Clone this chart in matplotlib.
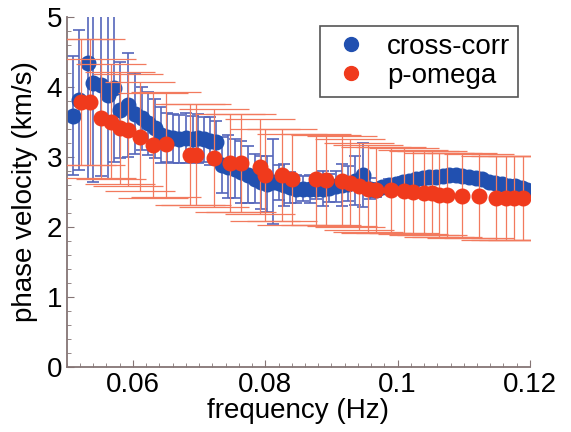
import matplotlib
matplotlib.use('Agg')
import matplotlib.pyplot as plt
from matplotlib.lines import Line2D
from matplotlib.ticker import MultipleLocator

plt.rcParams['font.family'] = ['Liberation Sans', 'DejaVu Sans']

# cross-corr (blue)
cc_freq = [0.0510, 0.0519, 0.0532, 0.0540, 0.0551, 0.0562, 0.0571, 0.0580, 0.0593, 0.0603,
           0.0613, 0.0623, 0.0633, 0.0643, 0.0652, 0.0661, 0.0670, 0.0680, 0.0690, 0.0698,
           0.0708, 0.0716, 0.0725, 0.0734, 0.0744, 0.0754, 0.0764, 0.0774, 0.0784, 0.0793,
           0.0802, 0.0811, 0.0820, 0.0829, 0.0838, 0.0847, 0.0857, 0.0867, 0.0877, 0.0887,
           0.0897, 0.0907, 0.0916, 0.0925, 0.0936, 0.0947, 0.0958, 0.0967, 0.0977, 0.0987,
           0.0997, 0.1008, 0.1018, 0.1028, 0.1038, 0.1048, 0.1058, 0.1068, 0.1078, 0.1088,
           0.1098, 0.1108, 0.1118, 0.1128, 0.1138, 0.1148, 0.1158, 0.1168, 0.1178, 0.1188,
           0.1196]
cc_vel = [3.59, 3.81, 4.34, 4.05, 4.03, 3.89, 3.98, 3.67, 3.74, 3.62,
          3.55, 3.48, 3.41, 3.31, 3.28, 3.27, 3.26, 3.27, 3.26, 3.27,
          3.25, 3.23, 3.21, 2.89, 2.86, 2.83, 2.79, 2.75, 2.69, 2.64,
          2.62, 2.65, 2.63, 2.60, 2.57, 2.55, 2.55, 2.55, 2.55, 2.55,
          2.56, 2.58, 2.60, 2.62, 2.66, 2.74, 2.55, 2.53, 2.57, 2.60,
          2.62, 2.65, 2.66, 2.68, 2.70, 2.71, 2.72, 2.73, 2.74, 2.74,
          2.73, 2.72, 2.70, 2.68, 2.65, 2.63, 2.61, 2.59, 2.58, 2.56,
          2.53]
cc_err = [0.85, 1.00, 1.65, 1.40, 1.30, 1.20, 1.05, 0.68, 0.74, 0.58,
          0.45, 0.45, 0.42, 0.40, 0.35, 0.35, 0.34, 0.36, 0.33, 0.35,
          0.32, 0.34, 0.30, 0.40, 0.45, 0.42, 0.44, 0.40, 0.35, 0.38,
          0.40, 0.60, 0.25, 0.30, 0.22, 0.20, 0.18, 0.20, 0.15, 0.25,
          0.20, 0.22, 0.30, 0.25, 0.35, 0.46, 0.15, 0.10, 0.08, 0.08,
          0.07, 0.06, 0.06, 0.05, 0.05, 0.05, 0.05, 0.05, 0.05, 0.05,
          0.05, 0.05, 0.05, 0.05, 0.05, 0.05, 0.05, 0.05, 0.05, 0.05,
          0.05]

# p-omega (red)
po_freq = [0.0522, 0.0535, 0.0552, 0.0567, 0.0580, 0.0593, 0.0610, 0.0630, 0.0650, 0.0686,
           0.0696, 0.0723, 0.0746, 0.0764, 0.0792, 0.0800, 0.0825, 0.0840, 0.0876, 0.0892,
           0.0916, 0.0928, 0.0942, 0.0955, 0.0967, 0.0990, 0.1010, 0.1023, 0.1040, 0.1052,
           0.1062, 0.1075, 0.1098, 0.1123, 0.1149, 0.1164, 0.1176, 0.1189]
po_vel = [3.79, 3.79, 3.55, 3.50, 3.41, 3.39, 3.29, 3.17, 3.18, 3.03,
          3.03, 2.98, 2.92, 2.92, 2.86, 2.74, 2.74, 2.68, 2.68, 2.67,
          2.66, 2.63, 2.58, 2.55, 2.53, 2.53, 2.52, 2.50, 2.49, 2.48,
          2.46, 2.46, 2.45, 2.44, 2.42, 2.41, 2.41, 2.41]
po_err = [0.90, 0.90, 0.85, 0.82, 0.80, 0.80, 0.78, 0.75, 0.75, 0.72,
          0.72, 0.70, 0.70, 0.70, 0.68, 0.66, 0.66, 0.65, 0.65, 0.64,
          0.64, 0.63, 0.62, 0.62, 0.61, 0.61, 0.61, 0.60, 0.60, 0.60,
          0.60, 0.60, 0.60, 0.60, 0.60, 0.60, 0.60, 0.60]

blue = '#2150b0'
red = '#f03a1c'

fig = plt.figure(figsize=(5.71, 4.32), dpi=100)
ax = fig.add_axes([0.117, 0.150, 0.811, 0.811])

ax.errorbar(cc_freq, cc_vel, yerr=cc_err, fmt='o', color=blue, ecolor='#5566bb',
            elinewidth=1.2, capsize=4, capthick=1.2, markersize=10.5, mec=blue, zorder=2)
ax.errorbar(po_freq, po_vel, yerr=po_err, fmt='o', color=red, ecolor='#f27a5e',
            elinewidth=0.9, capsize=25, capthick=0.9, markersize=10.5, mec=red, zorder=3)

ax.set_xlim(0.05, 0.12)
ax.set_ylim(0, 5)
ax.set_xticks([0.06, 0.08, 0.1, 0.12])
ax.set_xticklabels(['0.06', '0.08', '0.1', '0.12'])
ax.set_yticks([0, 1, 2, 3, 4, 5])
ax.xaxis.set_minor_locator(MultipleLocator(0.002))
ax.yaxis.set_minor_locator(MultipleLocator(0.2))

for s in ['top', 'right']:
    ax.spines[s].set_visible(False)
for s in ['left', 'bottom']:
    ax.spines[s].set_color('#857575')
    ax.spines[s].set_linewidth(1.3)
ax.tick_params(which='both', direction='in', colors='#857575', labelcolor='black', labelsize=20)
ax.tick_params(which='major', length=5)
ax.tick_params(which='minor', length=3)

ax.set_xlabel('frequency (Hz)', fontsize=20, labelpad=0)
ax.set_ylabel('phase velocity (km/s)', fontsize=20, labelpad=6)

handles = [Line2D([], [], ls='none', marker='o', color=blue, markersize=10),
           Line2D([], [], ls='none', marker='o', color=red, markersize=10)]
leg = ax.legend(handles, ['cross-corr', 'p-omega'], loc='upper right',
                bbox_to_anchor=(0.975, 0.975), borderaxespad=0, fontsize=20,
                fancybox=False, framealpha=1, edgecolor='#555555',
                handletextpad=0.5, handlelength=1.6, labelspacing=0.1, borderpad=0.3)
leg.get_frame().set_linewidth(1.2)

fig.savefig('out.png', dpi=100)
